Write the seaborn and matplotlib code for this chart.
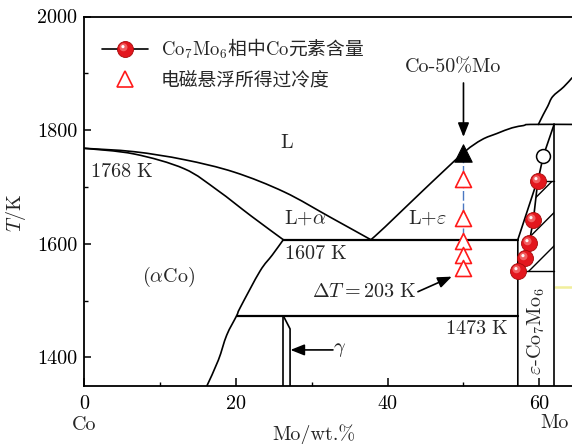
import numpy as np
import matplotlib
matplotlib.use("Agg")
import matplotlib.pyplot as plt
import matplotlib.transforms as mtransforms
from matplotlib.path import Path
from matplotlib.patches import PathPatch
from matplotlib.lines import Line2D
from matplotlib.legend_handler import HandlerTuple
from matplotlib.ticker import MultipleLocator
import seaborn as sns

sns.set_theme(style="ticks")
plt.rcParams["font.family"] = ["cmr10", "Noto Sans CJK SC", "DejaVu Sans"]
plt.rcParams["mathtext.fontset"] = "cm"
plt.rcParams["axes.unicode_minus"] = False
plt.rcParams["hatch.linewidth"] = 1.0
plt.rcParams["hatch.color"] = "black"

# ---------------- data (Mo wt.%, T in K) ----------------
T_MELT_CO = 1768          # melting point of Co
T_EUTECTIC = 1607         # L -> alpha + epsilon
T_LOW = 1473              # lower invariant
T_PLATEAU = 1810          # top of the epsilon field

x_eut = 37.8
x_alpha_eut = 26.26
x_alpha_low = 20.1
x_eps_left = 57.16
x_eps_right = 61.94

# liquidus, Co side
liq_co_x = [0.0, 6.6, 13.2, 19.8, 26.4, 32.4, x_eut]
liq_co_T = [T_MELT_CO, 1762, 1748, 1726, 1691, 1647, T_EUTECTIC]
# solidus of (alpha Co)
sol_a_x = [0.0, 6.6, 13.2, 17.6, 22.0, x_alpha_eut]
sol_a_T = [T_MELT_CO, 1758, 1732, 1694, 1649, T_EUTECTIC]
# solvus of (alpha Co)
solv_a_x = [x_alpha_eut, 24.8, 23.2, 20.6, x_alpha_low, 18.8, 17.7, 16.2]
solv_a_T = [T_EUTECTIC, 1580, 1552, 1488, T_LOW, 1439, 1395, 1350]
# liquidus, epsilon side
liq_e_x = [x_eut, 39.7, 44.7, 50.0, 52.4, 54.4, 56.4, 57.9, 58.8, 64.3]
liq_e_T = [T_EUTECTIC, 1630, 1694, 1760, 1783, 1794, 1804, 1808, T_PLATEAU, T_PLATEAU]
# liquidus of the next phase
liq_m_x = [59.87, 60.5, 61.1, 61.75, 63.2, 64.3]
liq_m_T = [T_PLATEAU, 1827, 1842, 1859, 1876, 1892]
# outer boundary of the epsilon field
eps_out_x = [59.7, x_eps_left, x_eps_left]
eps_out_T = [1710, T_EUTECTIC, 1350]
# gamma field
gam_l_x = [x_alpha_eut, x_alpha_eut]
gam_l_T = [T_LOW, 1350]
gam_r_x = [x_alpha_eut, 27.15, 27.15]
gam_r_T = [T_LOW, 1450, 1350]

# Co content of Co7Mo6 (line), open circle = point at 1755 K
co_x = [x_eps_right, 60.53, 59.79, 59.21, 58.65, 58.12, 57.16]
co_T = [T_PLATEAU, 1755, 1710, 1642, 1601, 1574, 1552]

# undercooling reached by electromagnetic levitation, Co-50%Mo
x_alloy = 50
T_liq_alloy = 1760
undercool_T = [1714, 1646, 1604, 1580, 1557]

# ---------------- figure ----------------
fig = plt.figure(figsize=(5.72, 4.44), dpi=100)
ax = fig.add_axes([0.1469, 0.1313, 0.8531, 0.8315])
ax.set_xlim(0, 64.3)
ax.set_ylim(1350, 2000)

lw = 1.2


def boundary(x, y, **kw):
    sns.lineplot(x=x, y=y, sort=False, estimator=None, color="black",
                 lw=kw.pop("lw", lw), ax=ax, legend=False, **kw)


def smooth_boundary(x, y, lw=lw):
    """Draw a phase boundary as a smooth Bezier path through the given points."""
    p = np.column_stack([x, y]).astype(float)
    n = len(p)
    verts, codes = [p[0]], [Path.MOVETO]
    for i in range(n - 1):
        p0 = p[i - 1] if i > 0 else p[i]
        p1, p2 = p[i], p[i + 1]
        p3 = p[i + 2] if i + 2 < n else p[i + 1]
        verts += [p1 + (p2 - p0) / 6, p2 - (p3 - p1) / 6, p2]
        codes += [Path.CURVE4] * 3
    ax.add_patch(PathPatch(Path(verts, codes), fill=False, edgecolor="black",
                           lw=lw, zorder=2, capstyle="round"))


smooth_boundary(liq_co_x, liq_co_T)
smooth_boundary(sol_a_x, sol_a_T)
smooth_boundary(solv_a_x, solv_a_T)
smooth_boundary(liq_e_x, liq_e_T)
smooth_boundary(liq_m_x, liq_m_T)
boundary(eps_out_x, eps_out_T)
boundary([x_eps_right, x_eps_right], [T_PLATEAU, 1350])
boundary(gam_l_x, gam_l_T)
boundary(gam_r_x, gam_r_T)
boundary([x_alpha_eut, x_eps_left], [T_EUTECTIC, T_EUTECTIC], lw=1.6)
boundary([x_alpha_low, x_eps_left], [T_LOW, T_LOW], lw=1.6)
ax.plot([62.0, 64.3], [1524, 1524], color="#f1ef9c", lw=1.8, zorder=1)

# hatched two-phase band next to the Co7Mo6 line
hx = [co_x[2], x_eps_right, x_eps_right] + co_x[:1:-1]
hT = [co_T[2], co_T[2], co_T[-1]] + co_T[:1:-1]
ax.fill(hx, hT, facecolor="none", edgecolor="black", hatch="/", lw=0, zorder=2)
ax.plot([co_x[2], x_eps_right], [co_T[2], co_T[2]], color="black", lw=1.0, zorder=2)
ax.plot([57.9, x_eps_right], [co_T[-1], co_T[-1]], color="black", lw=1.0, zorder=2)

# Co-content line with markers
sns.lineplot(x=co_x, y=co_T, sort=False, estimator=None, color="black", lw=lw,
             ax=ax, legend=False, zorder=4)
ax.plot(co_x[1], co_T[1], ls="none", marker="o", ms=10, mfc="white", mec="black",
        mew=1.1, zorder=6)

ball_x, ball_T = co_x[2:], co_T[2:]
ball_ms = 11.5
red = "#e3161d"
sns.scatterplot(x=ball_x, y=ball_T, marker="o", s=ball_ms ** 2, color=red,
                edgecolor="#a50a0a", linewidth=0.6, ax=ax, zorder=7, legend=False)


def sphere_layer(cx, cy, r):
    circ = Path.circle(center=(cx, cy), radius=r)
    verts = np.vstack([circ.vertices, [[1, 1], [-1, -1]]])
    codes = np.concatenate([circ.codes, [Path.MOVETO, Path.MOVETO]])
    return Path(verts, codes)


glow = sphere_layer(-0.25, 0.28, 0.5)
spot = sphere_layer(-0.32, 0.36, 0.2)
ax.plot(ball_x, ball_T, ls="none", marker=glow, ms=ball_ms, mfc="#f46c6c",
        mec="none", alpha=0.85, zorder=8)
ax.plot(ball_x, ball_T, ls="none", marker=spot, ms=ball_ms, mfc="white",
        mec="none", alpha=0.95, zorder=9)

# undercooling data at Co-50%Mo
ax.plot([x_alloy, x_alloy], [T_liq_alloy, undercool_T[-1]], color="#4a78c2", lw=1.0,
        ls=(0, (7, 2)), zorder=3)
sns.scatterplot(x=[x_alloy] * len(undercool_T), y=undercool_T, marker="^",
                s=11.5 ** 2, facecolor="white", edgecolor="#ff1a1a", linewidth=1.2,
                ax=ax, zorder=6, legend=False)
sns.scatterplot(x=[x_alloy], y=[T_liq_alloy], marker="^", s=12.5 ** 2,
                color="black", edgecolor="black", linewidth=0.8, ax=ax, zorder=6,
                legend=False)

# ---------------- annotations ----------------
fs = 14.5
ax.text(26.7, 1777, "L", fontsize=fs, ha="center", va="center")
ax.text(0.85, 1727, rf"$\mathrm{{{T_MELT_CO}\ K}}$", fontsize=fs, ha="left", va="center")
ax.text(26.4, 1645, r"L+$\alpha$", fontsize=fs, ha="left", va="center")
ax.text(42.7, 1645, r"L+$\varepsilon$", fontsize=fs, ha="left", va="center")
ax.text(26.3, 1582, rf"$\mathrm{{{T_EUTECTIC}\ K}}$", fontsize=fs, ha="left", va="center")
ax.text(11.1, 1541, r"($\alpha$Co)", fontsize=fs, ha="center", va="center")
ax.text(55.9, 1450, rf"$\mathrm{{{T_LOW}\ K}}$", fontsize=fs, ha="right", va="center")
ax.text(59.66, 1446, r"$\varepsilon$-Co$_7$Mo$_6$", fontsize=fs, ha="center",
        va="center", rotation=90)
ax.text(33.7, 1413, r"$\gamma$", fontsize=fs, ha="center", va="center")
ax.text(48.6, 1911, "Co-50%Mo", fontsize=fs, ha="center", va="center")
dT = T_liq_alloy - undercool_T[-1]
ax.text(43.75, 1515, rf"$\Delta T = {dT}\ \mathrm{{K}}$", fontsize=fs, ha="right",
        va="center")

arrow = dict(arrowstyle="-|>,head_length=0.7,head_width=0.28", color="black", lw=1.2,
             shrinkA=0, shrinkB=0)
ax.annotate("", xy=(x_alloy, 1788), xytext=(x_alloy, 1883), arrowprops=arrow)
ax.annotate("", xy=(48.46, 1542), xytext=(44.0, 1515.5), arrowprops=arrow)
ax.annotate("", xy=(27.2, 1413), xytext=(32.8, 1413), arrowprops=arrow)

trans = mtransforms.blended_transform_factory(ax.transData, ax.transAxes)
ax.text(0, -0.107, "Co", transform=trans, fontsize=fs, ha="center", va="center")
ax.text(62.0, -0.102, "Mo", transform=trans, fontsize=fs, ha="center", va="center")

# ---------------- axes ----------------
ax.set_xlabel("Mo/wt.%", fontsize=fs, family="cmr10")
ax.xaxis.set_label_coords(0.471, -0.104)
ax.set_ylabel(r"$T$/K", fontsize=fs)
ax.yaxis.set_label_coords(-0.114, 0.4686)
ax.xaxis.set_major_locator(MultipleLocator(20))
ax.xaxis.set_minor_locator(MultipleLocator(10))
ax.yaxis.set_major_locator(MultipleLocator(200))
ax.yaxis.set_minor_locator(MultipleLocator(100))
ax.tick_params(which="both", direction="in", top=False, right=False, colors="black",
               labelsize=fs)
ax.tick_params(axis="x", which="major", length=6, width=1.1, pad=6.5)
ax.tick_params(axis="y", which="major", length=5, width=1.1, pad=4.8)
ax.tick_params(which="minor", length=3, width=1.0)
for side in ("left", "bottom", "top"):
    ax.spines[side].set_color("black")
    ax.spines[side].set_linewidth(1.3)
ax.spines["right"].set_visible(False)

# ---------------- legend ----------------
h_co = (Line2D([], [], color="black", lw=lw, marker="o", ms=ball_ms, mfc=red,
               mec="#a50a0a", mew=0.6),
        Line2D([], [], ls="none", marker=glow, ms=ball_ms, mfc="#f46c6c", mec="none",
               alpha=0.85),
        Line2D([], [], ls="none", marker=spot, ms=ball_ms, mfc="white", mec="none"))
h_tri = Line2D([], [], ls="none", marker="^", ms=11.5, mfc="white", mec="#ff1a1a",
               mew=1.2)
leg = ax.legend([h_co, h_tri],
                [r"$\mathrm{Co_7Mo_6}$相中$\mathrm{Co}$元素含量", "电磁悬浮所得过冷度"],
                handler_map={tuple: HandlerTuple(ndivide=1, pad=0)},
                loc="upper left", bbox_to_anchor=(0.036, 0.945), frameon=False,
                borderpad=0, borderaxespad=0, handlelength=2.5, handletextpad=0.65,
                labelspacing=0.45, prop={"family": "Noto Sans CJK SC", "size": 13.5})

fig.savefig("out.png", dpi=100)
